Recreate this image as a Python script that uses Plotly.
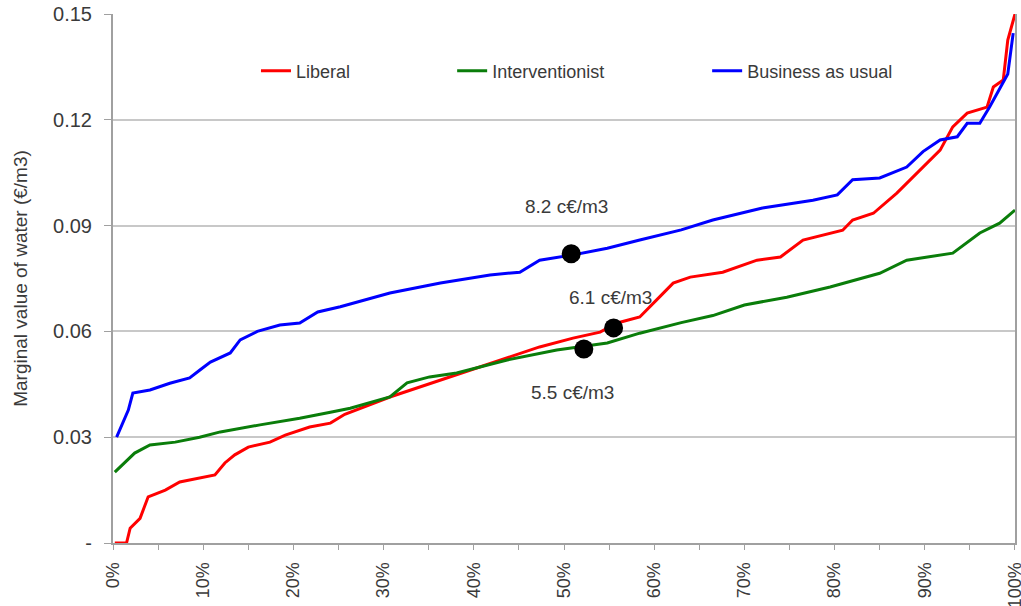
import plotly.graph_objects as go

# Liberal scenario
lib_x = [0.2, 1.5, 1.9, 3.0, 3.9, 5.8, 7.4, 9.6, 11.3, 12.4, 13.5, 15.0, 17.4, 19.1, 21.8, 24.1, 25.7,
         30.7, 36.3, 41.8, 47.3, 51.0, 54.0, 55.9, 58.4, 60.6, 62.1, 64.0, 67.6, 71.4, 74.0, 76.5,
         80.9, 82.0, 84.3, 86.9, 89.5, 91.7, 93.1, 94.7, 96.9, 97.6, 98.7, 99.2, 100.0]
lib_y = [0.0, 0.0, 0.0042, 0.007, 0.0131, 0.015, 0.0173, 0.0184, 0.0193, 0.0227, 0.025, 0.0272, 0.0286,
         0.0306, 0.0329, 0.034, 0.0365, 0.0414, 0.0462, 0.051, 0.0556, 0.0581, 0.0598, 0.0624, 0.0641,
         0.0698, 0.0737, 0.0754, 0.0768, 0.0802, 0.0811, 0.0859, 0.0887, 0.0916, 0.0935, 0.0992, 0.1058,
         0.1114, 0.118, 0.1219, 0.1236, 0.1293, 0.1313, 0.1426, 0.150]

# Interventionist scenario
int_x = [0.2, 1.3, 2.4, 4.1, 6.9, 9.6, 11.9, 16.3, 20.7, 24.1, 26.3, 30.7, 32.6, 35.1, 38.1, 43.7,
         49.2, 54.8, 58.4, 63.0, 66.5, 70.0, 74.7, 79.5, 85.0, 88.0, 93.1, 96.1, 98.3, 100.0]
int_y = [0.0201, 0.0227, 0.0255, 0.0278, 0.0286, 0.030, 0.0315, 0.0335, 0.0354, 0.0371, 0.0382, 0.0414,
         0.0454, 0.0471, 0.0482, 0.0519, 0.0547, 0.0567, 0.0595, 0.0625, 0.0645, 0.0675, 0.0697, 0.0726,
         0.0765, 0.0802, 0.0822, 0.0879, 0.0907, 0.0944]

# Business as usual scenario
bau_x = [0.4, 1.7, 2.2, 4.1, 6.3, 8.5, 9.6, 10.8, 13.0, 14.1, 16.0, 18.5, 20.7, 22.7, 25.2, 30.7,
         36.3, 41.8, 45.1, 47.3, 51.0, 54.8, 58.4, 63.0, 66.5, 72.0, 77.6, 80.3, 82.0, 85.0, 88.0,
         89.8, 91.7, 93.6, 94.7, 96.1, 97.2, 98.3, 99.2, 99.8]
bau_y = [0.030, 0.0377, 0.0425, 0.0434, 0.0453, 0.0468, 0.049, 0.0513, 0.0539, 0.0576, 0.060, 0.0618,
         0.0624, 0.0655, 0.067, 0.0709, 0.0737, 0.076, 0.0768, 0.0802, 0.0817, 0.0836, 0.0859, 0.0888,
         0.0916, 0.095, 0.0972, 0.0987, 0.103, 0.1035, 0.1066, 0.111, 0.1143, 0.1152, 0.119, 0.119,
         0.1237, 0.129, 0.133, 0.1446]

# highlighted points
pt_x = [50.8, 55.5, 52.2]
pt_y = [0.082, 0.061, 0.055]
pt_labels = ["8.2 c€/m3", "6.1 c€/m3", "5.5 c€/m3"]
lab_x = [50.3, 55.1, 50.9]
lab_y = [0.0955, 0.0695, 0.0428]

y_ticks = [0, 0.03, 0.06, 0.09, 0.12, 0.15]
y_ticktext = ["-", "0.03", "0.06", "0.09", "0.12", "0.15"]
x_ticks = [0, 10, 20, 30, 40, 50, 60, 70, 80, 90, 100]
x_ticktext = [f"{v}%" for v in x_ticks]

FONT = "Liberation Sans, Arial, sans-serif"
TXT = "#3a3a3a"

fig = go.Figure()
fig.add_trace(go.Scatter(x=lib_x, y=lib_y, mode="lines", name="Liberal",
                         line=dict(color="#ff0000", width=3), legend="legend"))
fig.add_trace(go.Scatter(x=int_x, y=int_y, mode="lines", name="Interventionist",
                         line=dict(color="#0a7d0a", width=3), legend="legend2"))
fig.add_trace(go.Scatter(x=bau_x, y=bau_y, mode="lines", name="Business as usual",
                         line=dict(color="#0000ff", width=3), legend="legend3"))
fig.add_trace(go.Scatter(x=pt_x, y=pt_y, mode="markers", showlegend=False,
                         marker=dict(color="black", size=19)))

for tx, ty, t in zip(lab_x, lab_y, pt_labels):
    fig.add_annotation(x=tx, y=ty, text=t, showarrow=False,
                       font=dict(family=FONT, size=19, color=TXT))

leg_common = dict(orientation="h", yanchor="middle", xanchor="left",
                  bgcolor="rgba(0,0,0,0)", font=dict(family=FONT, size=18, color=TXT),
                  itemwidth=30)

fig.update_layout(
    width=1021, height=606,
    margin=dict(l=113, r=6, t=14, b=63, autoexpand=False),
    paper_bgcolor="white", plot_bgcolor="white",
    font=dict(family=FONT, size=18, color=TXT),
    legend=dict(x=0.1585, y=0.892, **leg_common),
    legend2=dict(x=0.376, y=0.892, **leg_common),
    legend3=dict(x=0.6587, y=0.892, **leg_common),
    xaxis=dict(range=[0, 100.001], tickvals=x_ticks, ticktext=x_ticktext, tickangle=-90,
               automargin=False, ticklabeloverflow="allow",
               showgrid=False, zeroline=False, showline=True, linecolor="#a0a0a0", linewidth=2,
               ticks="outside", ticklen=5, tickcolor="#a0a0a0", ticklabelstandoff=5,
               minor=dict(dtick=5, tick0=0, ticks="outside", ticklen=5, tickcolor="#a0a0a0"),
               tickfont=dict(family=FONT, size=18, color=TXT)),
    yaxis=dict(range=[0, 0.15001], tickvals=y_ticks, ticktext=y_ticktext,
               automargin=False, ticklabeloverflow="allow",
               showgrid=True, gridcolor="#c8c8c8", gridwidth=1.5, zeroline=False,
               showline=True, mirror=True, linecolor="#a0a0a0", linewidth=2,
               ticks="outside", ticklen=7, tickcolor="#a0a0a0", ticklabelstandoff=8,
               tickfont=dict(family=FONT, size=20, color=TXT),
               title=dict(text="Marginal value of water (€/m3)", standoff=20,
                          font=dict(family=FONT, size=19, color=TXT))),
)

# remove the default 8px page margin so the figure fills the window exactly
fig.write_html("out.html", config={"displayModeBar": False},
               post_script="document.body.style.margin='0px';document.body.style.overflow='hidden';")
